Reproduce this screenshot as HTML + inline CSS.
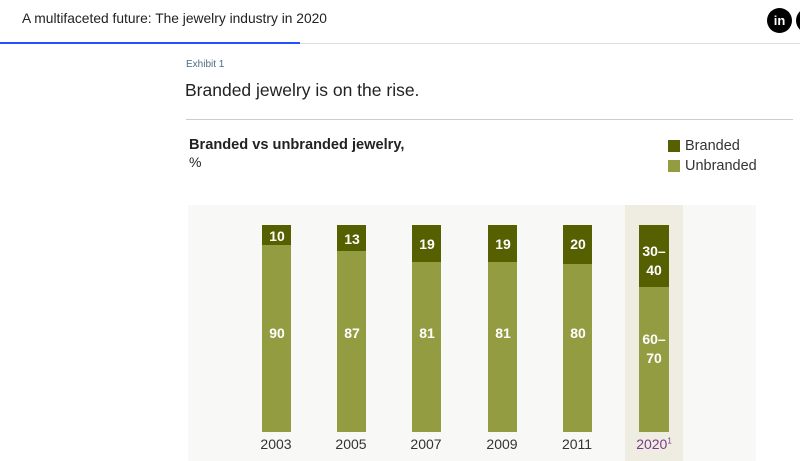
<!DOCTYPE html><html><head><style>
body{margin:0;width:800px;height:461px;overflow:hidden;background:#fff;font-family:"Liberation Sans",sans-serif;position:relative}
div{position:absolute}
.bar{width:29px}
.b{background:#566000}.u{background:#949c41}
.lbl{color:#fff;font-weight:bold;font-size:14px;text-align:center;width:30px}
.yr{font-size:14px;color:#333;width:60px;text-align:center;top:436px}
</style></head><body>
<div style="left:22px;top:11px;font-size:13.8px;color:#222">A multifaceted future: The jewelry industry in 2020</div>
<div style="left:767px;top:8px;width:25px;height:25px;border-radius:50%;background:#000;color:#fff;font-weight:bold;font-size:13px;text-align:center;line-height:25px">in</div>
<div style="left:796px;top:8px;width:25px;height:25px;border-radius:50%;background:#000"></div>
<div style="left:0;top:43px;width:800px;height:1px;background:#ddd"></div>
<div style="left:0;top:42px;width:300px;height:2px;background:#2251ff"></div>
<div style="left:186px;top:59px;font-size:10px;color:#4a6a8a">Exhibit 1</div>
<div style="left:185px;top:80px;font-size:17.5px;color:#222">Branded jewelry is on the rise.</div>
<div style="left:186px;top:119px;width:607px;height:1px;background:#ccc"></div>
<div style="left:189px;top:137px;font-size:14.6px;font-weight:bold;color:#222">Branded vs unbranded jewelry,</div>
<div style="left:189px;top:154px;font-size:14px;color:#222">%</div>
<div style="left:668px;top:140px;width:12px;height:12px" class="b"></div>
<div style="left:685px;top:138px;font-size:14.5px;color:#333">Branded</div>
<div style="left:668px;top:160px;width:12px;height:12px" class="u"></div>
<div style="left:685px;top:158px;font-size:14.5px;color:#333">Unbranded</div>
<div style="left:188px;top:205px;width:568px;height:256px;background:#f8f8f6"></div>
<div style="left:625px;top:205px;width:58px;height:256px;background:#efede1"></div>

<div class="bar b" style="left:262px;top:225px;height:20px"></div><div class="bar u" style="left:262px;top:245px;height:187px"></div>
<div class="lbl" style="left:262px;top:228px">10</div><div class="lbl" style="left:262px;top:325px">90</div><div class="yr" style="left:246px">2003</div>

<div class="bar b" style="left:337px;top:225px;height:26px"></div><div class="bar u" style="left:337px;top:251px;height:181px"></div>
<div class="lbl" style="left:337px;top:231px">13</div><div class="lbl" style="left:337px;top:325px">87</div><div class="yr" style="left:321px">2005</div>

<div class="bar b" style="left:412px;top:225px;height:37px"></div><div class="bar u" style="left:412px;top:262px;height:170px"></div>
<div class="lbl" style="left:412px;top:236px">19</div><div class="lbl" style="left:412px;top:325px">81</div><div class="yr" style="left:396px">2007</div>

<div class="bar b" style="left:488px;top:225px;height:37px"></div><div class="bar u" style="left:488px;top:262px;height:170px"></div>
<div class="lbl" style="left:488px;top:236px">19</div><div class="lbl" style="left:488px;top:325px">81</div><div class="yr" style="left:472px">2009</div>

<div class="bar b" style="left:563px;top:225px;height:39px"></div><div class="bar u" style="left:563px;top:264px;height:168px"></div>
<div class="lbl" style="left:563px;top:236px">20</div><div class="lbl" style="left:563px;top:325px">80</div><div class="yr" style="left:547px">2011</div>

<div class="bar b" style="left:639px;top:225px;height:62px;width:30px"></div><div class="bar u" style="left:639px;top:287px;height:145px;width:30px"></div>
<div class="lbl" style="left:639px;top:242px;line-height:19px">30–<br>40</div><div class="lbl" style="left:639px;top:330px;line-height:19px">60–<br>70</div>
<div class="yr" style="left:624px;color:#7a3b8a">2020<sup style="font-size:8px">1</sup></div>
</body></html>
